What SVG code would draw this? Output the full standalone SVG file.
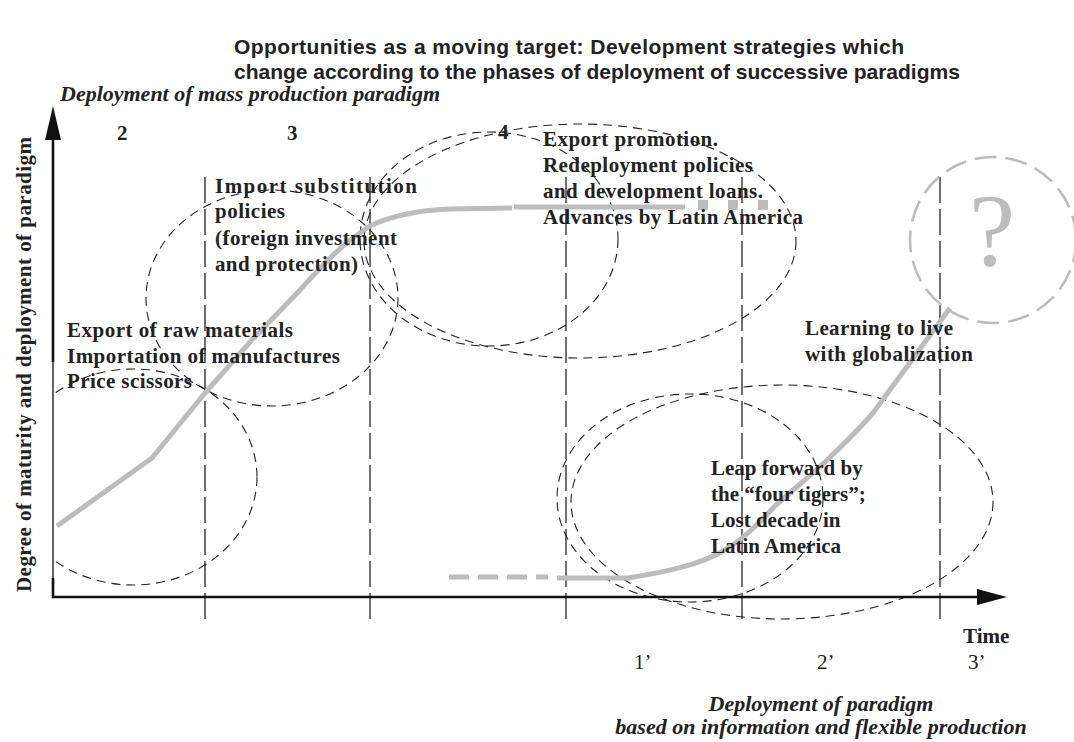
<svg xmlns="http://www.w3.org/2000/svg" width="1074" height="742" viewBox="0 0 1074 742">
<defs>
<style>
.title{font-family:"Liberation Sans",Arial,sans-serif;font-weight:bold;font-size:21px;fill:#222}
.lbl{font-family:"Liberation Serif","Times New Roman",serif;font-weight:bold;font-size:21px;fill:#222}
.it{font-family:"Liberation Serif","Times New Roman",serif;font-weight:bold;font-style:italic;font-size:22px;fill:#222}
.reg{font-family:"Liberation Serif","Times New Roman",serif;font-size:21px;fill:#222}
.ell{fill:none;stroke:#222;stroke-width:1.1;stroke-dasharray:9 6}
.vl{fill:none;stroke:#333;stroke-width:1.4;stroke-dasharray:26 6}
.curve{fill:none;stroke:#bcbcbc;stroke-width:5}
.axis{fill:none;stroke:#111;stroke-width:2.6}
</style>
<clipPath id="rightOfAxis"><rect x="53" y="0" width="1021" height="742"/></clipPath>
</defs>
<rect width="1074" height="742" fill="#fff"/>

<g id="title">
<text class="title" x="234" y="54" textLength="670">Opportunities as a moving target: Development strategies which</text>
<text class="title" x="234" y="79">change according to the phases of deployment of successive paradigms</text>
</g>

<g id="phase-lines">
<line class="vl" x1="205" y1="177" x2="205" y2="621"/>
<line class="vl" x1="370" y1="177" x2="370" y2="621"/>
<line class="vl" x1="566" y1="177" x2="566" y2="621"/>
<line class="vl" x1="742" y1="177" x2="742" y2="621"/>
<line class="vl" x1="940" y1="177" x2="940" y2="621"/>
</g>

<g id="ellipses">
<ellipse class="ell" cx="133" cy="477" rx="124" ry="108" clip-path="url(#rightOfAxis)"/>
<ellipse class="ell" cx="272" cy="298" rx="126" ry="108"/>
<ellipse class="ell" cx="489" cy="239" rx="129" ry="107"/>
<ellipse class="ell" cx="580" cy="241" rx="216" ry="117"/>
<ellipse class="ell" cx="690" cy="498" rx="133" ry="104"/>
<ellipse class="ell" cx="782" cy="502" rx="211" ry="117"/>
</g>

<g id="connectors">
<path class="curve" d="M57,526 L152,458 L205,393 L250,342 L300,290 C320,268 340,245 370,226 C395,214 425,210 450,209 L512,208"/>
<path class="curve" d="M514,207 L685,207"/>
<rect x="698" y="200" width="10" height="10" fill="#bcbcbc"/>
<rect x="728" y="200" width="10" height="10" fill="#bcbcbc"/>
<rect x="758" y="200" width="10" height="10" fill="#bcbcbc"/>
<path class="curve" d="M449,577 L548,577" stroke-dasharray="20 9"/>
<path class="curve" d="M557,578 L628,578 C665,572 700,565 725,550 C745,538 760,522 775,506 C795,488 810,476 825,462 C845,443 860,428 873,413 L950,308"/>
</g>

<g id="axes">
<line class="axis" x1="53" y1="130" x2="53" y2="362"/>
<line x1="53" y1="362" x2="53" y2="580" stroke="#111" stroke-width="1.3"/>
<line class="axis" x1="53" y1="578" x2="53" y2="598"/>
<polygon points="53,106 45,140 61,140" fill="#111"/>
<line class="axis" x1="52" y1="597" x2="980" y2="597"/>
<polygon points="1007,597 977,589 977,605" fill="#111"/>
</g>

<g id="question">
<circle cx="993" cy="240" r="83" fill="none" stroke="#bcbcbc" stroke-width="2.5" stroke-dasharray="22 9"/>
<text x="992" y="266" text-anchor="middle" font-family="'Liberation Serif','Times New Roman',serif" font-size="104" fill="#bcbcbc">?</text>
</g>

<g id="axis-labels">
<text class="it" x="60" y="101" textLength="380">Deployment of mass production paradigm</text>
<text class="lbl" transform="translate(31,592) rotate(-90)" textLength="455">Degree of maturity and deployment of paradigm</text>
<text class="lbl" x="963" y="643">Time</text>
<text class="it" x="821" y="711" text-anchor="middle">Deployment of paradigm</text>
<text class="it" x="821" y="734" text-anchor="middle">based on information and flexible production</text>
</g>

<g id="phase-numbers">
<text class="lbl" x="117" y="140">2</text>
<text class="lbl" x="287" y="140">3</text>
<text class="lbl" x="498" y="139">4</text>
<text class="reg" x="634" y="669">1’</text>
<text class="reg" x="817" y="669">2’</text>
<text class="reg" x="968" y="669">3’</text>
</g>

<g id="node-raw-materials">
<text class="lbl" x="67" y="337" textLength="226">Export of raw materials</text>
<text class="lbl" x="67" y="363" textLength="273">Importation of manufactures</text>
<text class="lbl" x="67" y="388" textLength="125">Price scissors</text>
</g>

<g id="node-import-substitution">
<text class="lbl" x="215" y="193" textLength="202">Import substitution</text>
<text class="lbl" x="215" y="218" textLength="70">policies</text>
<text class="lbl" x="215" y="245" textLength="182">(foreign investment</text>
<text class="lbl" x="215" y="271" textLength="143">and protection)</text>
</g>

<g id="node-export-promotion">
<text class="lbl" x="543" y="146" textLength="175">Export promotion.</text>
<text class="lbl" x="543" y="172" textLength="210">Redeployment policies</text>
<text class="lbl" x="543" y="198" textLength="220">and development loans.</text>
<text class="lbl" x="543" y="224" textLength="260">Advances by Latin America</text>
</g>

<g id="node-globalization">
<text class="lbl" x="805" y="335" textLength="148">Learning to live</text>
<text class="lbl" x="805" y="361" textLength="168">with globalization</text>
</g>

<g id="node-four-tigers">
<text class="lbl" x="711" y="475">Leap forward by</text>
<text class="lbl" x="711" y="501">the “four tigers”;</text>
<text class="lbl" x="711" y="527">Lost decade in</text>
<text class="lbl" x="711" y="553">Latin America</text>
</g>
</svg>
